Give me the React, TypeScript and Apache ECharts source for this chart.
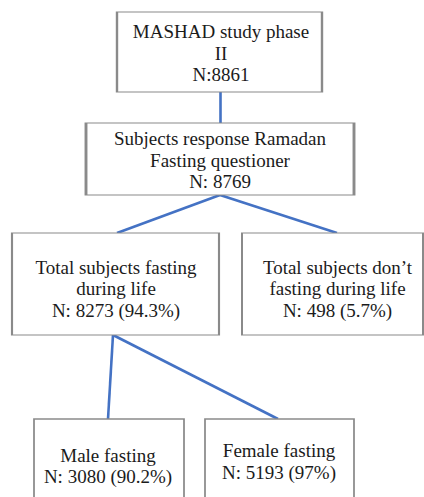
import React, { useEffect, useRef } from "react";
import * as echarts from "echarts";

// ---- data ----
const stepTitles = [
  "MASHAD study phase\nII",
  "Subjects response Ramadan\nFasting questioner",
  "Total subjects fasting\nduring life",
  "Total subjects don’t\nfasting during life",
  "Male fasting",
  "Female fasting",
];
const stepCounts = [8861, 8769, 8273, 498, 3080, 5193];
const stepPercents = ["", "", "94.3%", "5.7%", "90.2%", "97%"];
const countSeparators = ["", " ", " ", " ", " ", " "];
const flowLinks: [number, number][] = [
  [0, 1],
  [1, 2],
  [1, 3],
  [2, 4],
  [2, 5],
];

// ---- layout (pixel positions, not data) ----
const boxRects = [
  [117, 12, 322, 92],
  [86, 123, 354, 195],
  [12, 233, 219, 335],
  [242, 233, 423, 335],
  [34, 419, 184, 530],
  [205, 419, 354, 530],
];
const labelCenters = [
  [221, 53],
  [220, 160],
  [116, 288.5],
  [337.5, 288.5],
  [108, 466],
  [279, 461.5],
];
const connectorEnds = [
  [[220, 92], [220, 123]],
  [[220, 195], [117, 233]],
  [[220, 195], [337, 233]],
  [[113, 335], [108, 419]],
  [[113, 335], [278, 419]],
];

const W = 424;
const H = 497;

export default function App() {
  const ref = useRef<HTMLDivElement>(null);
  useEffect(() => {
    if (!ref.current) return;
    const chart = echarts.init(ref.current, null, { renderer: "svg" });

    const nodes: any[] = [];
    stepTitles.forEach((title, i) => {
      const [x1, y1, x2, y2] = boxRects[i];
      const cx = (x1 + x2) / 2;
      const cy = (y1 + y2) / 2;
      const [tx, ty] = labelCenters[i];
      const pct = stepPercents[i] ? ` (${stepPercents[i]})` : "";
      nodes.push({
        name: "box" + i,
        value: [cx, cy],
        symbol: "rect",
        symbolSize: [x2 - x1, y2 - y1],
        itemStyle: {
          color: "#ffffff",
          borderColor: "#8a8a8a",
          borderWidth: 1.5,
        },
        label: {
          show: true,
          position: "inside",
          offset: [tx - cx, ty - cy],
          formatter: `${title}\nN:${countSeparators[i]}${stepCounts[i]}${pct}`,
          fontFamily: "Liberation Serif",
          fontSize: 19,
          lineHeight: 21.5,
          color: "#1b1b1b",
          align: "center",
        },
      });
    });
    const links: any[] = [];
    flowLinks.forEach(([s, t], k) => {
      const [[ax, ay], [bx, by]] = connectorEnds[k];
      nodes.push({
        name: `a${k}`,
        value: [ax, ay],
        symbolSize: 0,
        label: { show: false },
        itemStyle: { color: "transparent" },
      });
      nodes.push({
        name: `b${k}`,
        value: [bx, by],
        symbolSize: 0,
        label: { show: false },
        itemStyle: { color: "transparent" },
      });
      links.push({ source: `a${k}`, target: `b${k}`, from: s, to: t });
    });

    chart.setOption({
      animation: false,
      grid: { left: 0, right: 0, top: 0, bottom: 0 },
      xAxis: { type: "value", min: 0, max: W, show: false },
      yAxis: { type: "value", min: 0, max: H, inverse: true, show: false },
      series: [
        {
          type: "graph",
          coordinateSystem: "cartesian2d",
          layout: "none",
          silent: true,
          emphasis: { disabled: true },
          edgeSymbol: ["none", "none"],
          data: nodes,
          links,
          lineStyle: { color: "#4472C4", width: 2.6, opacity: 1, curveness: 0 },
        },
      ],
    });
    return () => chart.dispose();
  }, []);
  return (
    <div
      ref={ref}
      style={{ position: "absolute", left: 0, top: 0, width: W, height: H, background: "#fff" }}
    />
  );
}
